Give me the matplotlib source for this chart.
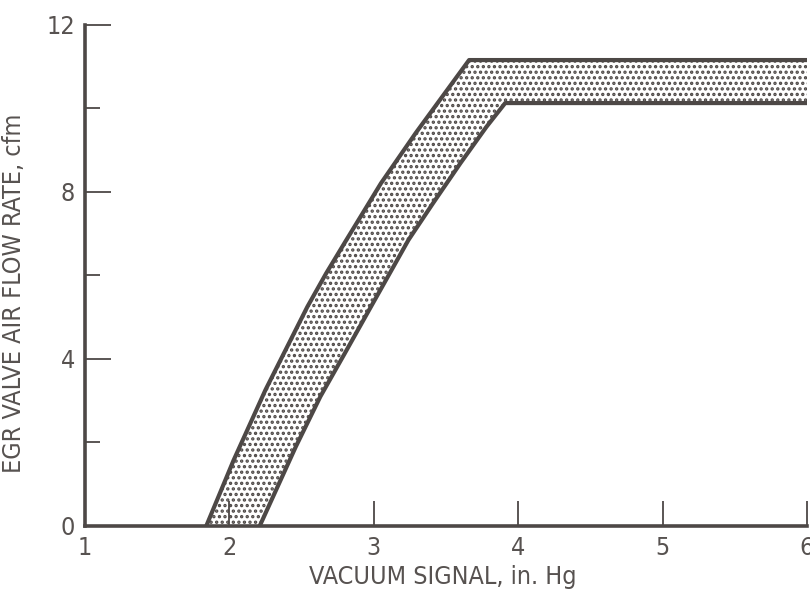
import matplotlib
matplotlib.use("Agg")
import matplotlib.pyplot as plt
from matplotlib.ticker import MultipleLocator
import numpy as np

# band edges: vacuum signal (in. Hg) vs air flow (cfm)
upper_x = [1.84, 2.03, 2.25, 2.40, 2.54, 2.67, 2.81, 3.05, 3.29, 3.44, 3.66, 6.00]
upper_y = [0.0, 1.58, 3.26, 4.29, 5.25, 6.05, 6.85, 8.21, 9.41, 10.12, 11.16, 11.16]
lower_x = [2.21, 2.46, 2.63, 2.80, 2.98, 3.24, 3.41, 3.60, 3.78, 3.91, 6.00]
lower_y = [0.0, 1.90, 3.10, 4.14, 5.25, 6.85, 7.73, 8.69, 9.56, 10.13, 10.13]

x_ticks = [1, 2, 3, 4, 5, 6]
y_ticks = [0, 4, 8, 12]

INK = "#4d4846"
TEXT = "#575250"

plt.rcParams['font.family'] = ['DejaVu Sans']
plt.rcParams['font.stretch'] = 'condensed'
plt.rcParams['hatch.color'] = INK
plt.rcParams['hatch.linewidth'] = 1.6

fig = plt.figure(figsize=(8.1, 5.92), dpi=100)
ax = fig.add_axes([0.1049, 0.1115, 0.8914, 0.8463])

# dotted band between the two limit curves
band_x = np.concatenate([upper_x, lower_x[::-1]])
band_y = np.concatenate([upper_y, lower_y[::-1]])
ax.fill(band_x, band_y, facecolor="white", edgecolor=INK, hatch="...", linewidth=0)

ax.plot(upper_x, upper_y, color=INK, lw=3.0, solid_joinstyle="round")
ax.plot(lower_x, lower_y, color=INK, lw=3.0, solid_joinstyle="round")

ax.set_xlim(1, 6)
ax.set_ylim(0, 12)
ax.set_xticks(x_ticks)
ax.set_yticks(y_ticks)
ax.yaxis.set_minor_locator(MultipleLocator(2))

for side in ("top", "right"):
    ax.spines[side].set_visible(False)
for side in ("left", "bottom"):
    ax.spines[side].set_linewidth(2.6)
    ax.spines[side].set_color(INK)

ax.tick_params(axis="both", which="both", direction="in", color=INK,
               labelcolor=TEXT, labelsize=18)
ax.tick_params(axis="y", which="major", length=19, width=1.3, pad=7)
ax.tick_params(axis="y", which="minor", length=11, width=1.3)
ax.tick_params(axis="x", which="major", length=18, width=1.3, pad=7)

ax.set_xlabel("VACUUM SIGNAL, in. Hg", fontsize=18, color=TEXT)
ax.set_ylabel("EGR VALVE AIR FLOW RATE, cfm", fontsize=18, color=TEXT)
ax.xaxis.set_label_coords(0.495, -0.078)
ax.yaxis.set_label_coords(-0.082, 0.465)

fig.savefig("out.png", dpi=100)
